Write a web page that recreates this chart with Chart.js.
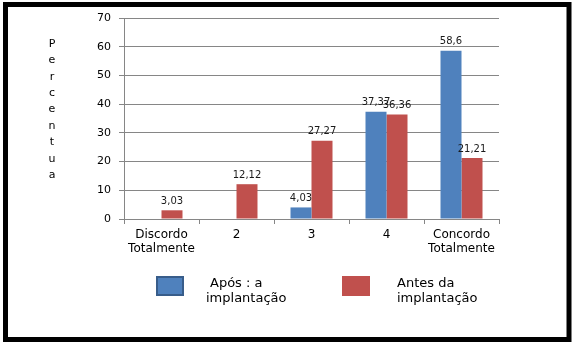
<!DOCTYPE html>
<html>
<head>
<meta charset="utf-8">
<script src="https://cdn.jsdelivr.net/npm/chart.js@4.4.1/dist/chart.umd.min.js"></script>
<style>
  html, body { margin: 0; padding: 0; background: #fff; }
  #wrap { width: 576px; height: 347px; }
</style>
</head>
<body>
<div id="wrap"><canvas id="chart" width="576" height="347"></canvas></div>
<script>
// categories and series
const categories = [['Discordo', 'Totalmente'], '2', '3', '4', ['Concordo', 'Totalmente']];
const afterValues = [null, null, 4.03, 37.37, 58.6];
const beforeValues = [3.03, 12.12, 27.27, 36.36, 21.21];
const seriesNames = [['Após : a', 'implantação'], ['Antes da', 'implantação']];
const yTicks = [0, 10, 20, 30, 40, 50, 60, 70];
const yTitle = 'Percentua';

const FONT = 'DejaVu Sans';

// value labels above each bar, comma as decimal mark
const barLabels = {
  id: 'barLabels',
  afterDatasetsDraw(chart) {
    const ctx = chart.ctx;
    ctx.save();
    ctx.font = '10px ' + FONT;
    ctx.fillStyle = '#1a1a1a';
    ctx.textAlign = 'center';
    ctx.textBaseline = 'bottom';
    chart.data.datasets.forEach((ds, i) => {
      chart.getDatasetMeta(i).data.forEach((bar, j) => {
        const v = ds.data[j];
        if (v == null) return;
        ctx.fillText(String(v).replace('.', ','), bar.x, bar.y - 4);
      });
    });
    ctx.restore();
  }
};

// stacked letters for the y title, legend under the axis, black frame
const extras = {
  id: 'extras',
  afterDraw(chart) {
    const ctx = chart.ctx;
    ctx.save();

    ctx.font = '11px ' + FONT;
    ctx.fillStyle = '#000';
    ctx.textAlign = 'center';
    ctx.textBaseline = 'middle';
    yTitle.split('').forEach((ch, i) => ctx.fillText(ch, 52, 44 + i * 16.4));

    // legend
    const items = [
      { x: 157, tx: 206, fill: chart.data.datasets[0].backgroundColor, border: '#385d8a' },
      { x: 343, tx: 397, fill: chart.data.datasets[1].backgroundColor, border: '#c0504d' }
    ];
    ctx.font = '13px ' + FONT;
    ctx.textAlign = 'left';
    items.forEach((it, i) => {
      ctx.fillStyle = it.fill;
      ctx.fillRect(it.x, 277, 26, 18);
      ctx.strokeStyle = it.border;
      ctx.lineWidth = 2;
      ctx.strokeRect(it.x, 277, 26, 18);
      ctx.fillStyle = '#000';
      const lines = chart.data.datasets[i].label;
      lines.forEach((t, k) => ctx.fillText(t, it.tx + (i === 0 && k === 0 ? 4 : 0), 284 + k * 14.5));
    });

    // frame
    ctx.strokeStyle = '#000';
    ctx.lineWidth = 5;
    ctx.strokeRect(5.5, 4.5, 563.5, 335);
    ctx.restore();
  }
};

new Chart(document.getElementById('chart'), {
  type: 'bar',
  data: {
    labels: categories,
    datasets: [
      { label: seriesNames[0], data: afterValues, backgroundColor: '#4f81bd' },
      { label: seriesNames[1], data: beforeValues, backgroundColor: '#c0504d' }
    ]
  },
  options: {
    responsive: false,
    animation: false,
    devicePixelRatio: 1,
    layout: { padding: { left: 0, top: 18, right: 77, bottom: 78 } },
    datasets: { bar: { barPercentage: 1, categoryPercentage: 0.56 } },
    plugins: { legend: { display: false }, tooltip: { enabled: false } },
    scales: {
      x: {
        afterFit(s) { s.height = 50; },
        grid: { offset: true, drawOnChartArea: false, drawTicks: true, tickLength: 5, color: '#868686' },
        border: { color: '#868686' },
        ticks: { color: '#000', padding: 4, font: { family: FONT, size: 12, lineHeight: 1.17 }, maxRotation: 0, autoSkip: false }
      },
      y: {
        min: yTicks[0],
        max: yTicks[yTicks.length - 1],
        afterFit(s) { s.width = 124; },
        afterBuildTicks(s) { s.ticks = yTicks.map(v => ({ value: v })); },
        grid: { color: '#868686', tickLength: 5 },
        border: { color: '#868686' },
        ticks: { color: '#000', padding: 8, font: { family: FONT, size: 11 } }
      }
    }
  },
  plugins: [barLabels, extras]
});
</script>
</body>
</html>
